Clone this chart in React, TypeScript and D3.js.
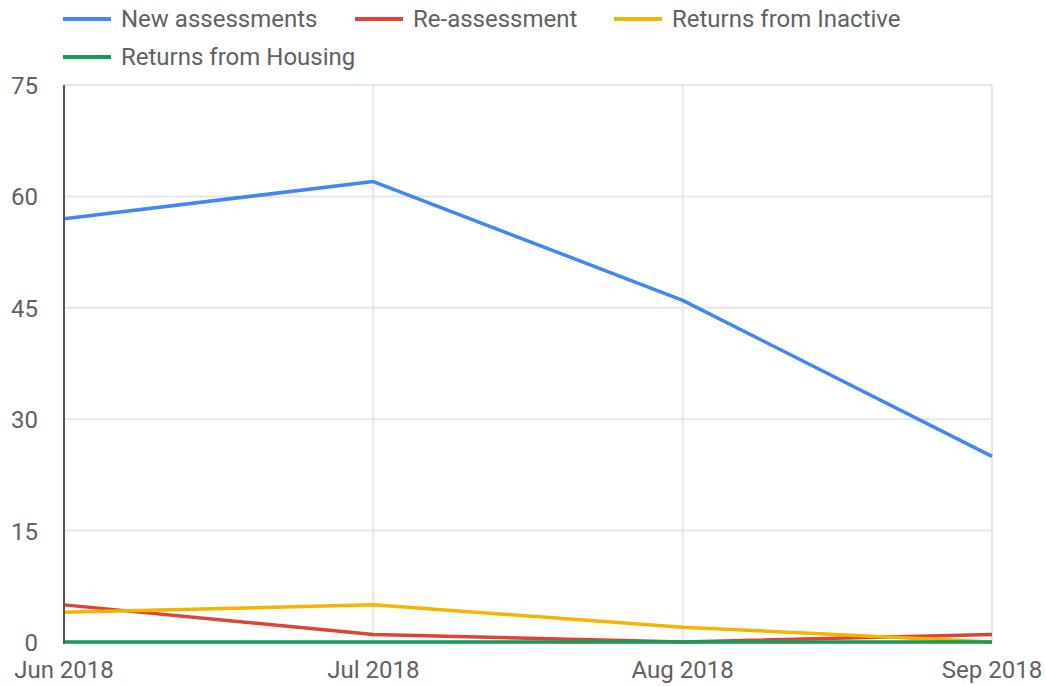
import React from "react";
import * as d3 from "d3";

const months = ["Jun 2018", "Jul 2018", "Aug 2018", "Sep 2018"];
const newAssessments = [57, 62, 46, 25];
const reAssessment = [5, 1, 0, 1];
const returnsInactive = [4, 5, 2, 0];
const returnsHousing = [0, 0, 0, 0];
const yTicks = [0, 15, 30, 45, 60, 75];

const seriesNames = ["New assessments", "Re-assessment", "Returns from Inactive", "Returns from Housing"];
const seriesColors = ["#4285F4", "#DB4437", "#F4B400", "#0F9D58"];
const seriesValues = [newAssessments, reAssessment, returnsInactive, returnsHousing];

const W = 1046;
const H = 686;
const textColor = "#616161";
const font = "Roboto, sans-serif";

export default function App() {
  const x = d3.scalePoint<string>().domain(months).range([64, 992]);
  const y = d3.scaleLinear().domain([0, 75]).range([642, 85]);
  const line = d3
    .line<number>()
    .x((_, i) => x(months[i]) as number)
    .y((d) => y(d));

  const legendPos = [
    { lx: 63, row: 0 },
    { lx: 355, row: 0 },
    { lx: 614, row: 0 },
    { lx: 63, row: 1 },
  ];

  return (
    <svg
      width={W}
      height={H}
      style={{ position: "absolute", left: 0, top: 0, background: "#fff" }}
      fontFamily={font}
    >
      {/* horizontal grid */}
      {yTicks.map((t) => (
        <line key={"h" + t} x1={64} x2={992} y1={y(t)} y2={y(t)} stroke="#e6e6e6" strokeWidth={2} />
      ))}
      {/* vertical grid */}
      {months.map((m) => (
        <line key={"v" + m} x1={x(m)} x2={x(m)} y1={85} y2={642} stroke="#e6e6e6" strokeWidth={2} />
      ))}
      {/* y labels */}
      {yTicks.map((t) => (
        <text key={"yl" + t} x={38} y={y(t) + 9} textAnchor="end" fontSize={24} fill={textColor}>
          {t}
        </text>
      ))}
      {/* x labels */}
      {months.map((m) => (
        <text key={"xl" + m} x={x(m)} y={678} textAnchor="middle" fontSize={24} fill={textColor}>
          {m}
        </text>
      ))}
      {/* series */}
      {seriesValues.map((vals, i) => (
        <path
          key={"s" + i}
          d={line(vals) || ""}
          fill="none"
          stroke={seriesColors[i]}
          strokeWidth={3.5}
          strokeLinejoin="round"
        />
      ))}
      {/* left axis line */}
      <line x1={64} x2={64} y1={85} y2={644} stroke="#555" strokeWidth={2} />
      {/* legend */}
      {seriesNames.map((n, i) => {
        const p = legendPos[i];
        const ly = p.row === 0 ? 19 : 57;
        return (
          <g key={"lg" + i}>
            <line x1={p.lx} x2={p.lx + 48} y1={ly} y2={ly} stroke={seriesColors[i]} strokeWidth={4} />
            <text x={p.lx + 58} y={ly + 8} fontSize={24} fill={textColor}>
              {n}
            </text>
          </g>
        );
      })}
    </svg>
  );
}
